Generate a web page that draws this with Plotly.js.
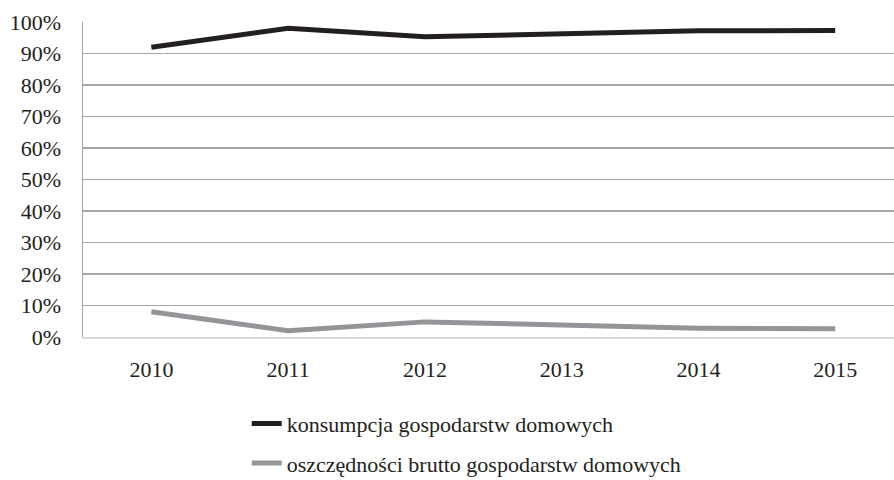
<!DOCTYPE html>
<html>
<head>
<meta charset="utf-8">
<script src="https://cdn.plot.ly/plotly-3.0.1.min.js"></script>
<style>html,body{margin:0;padding:0;background:#fff;}#chart{width:894px;height:480px;}</style>
</head>
<body>
<div id="chart"></div>
<script>
const years = ['2010', '2011', '2012', '2013', '2014', '2015'];
const konsumpcja = [0.92, 0.98, 0.953, 0.963, 0.972, 0.973];
const oszczednosci = [0.08, 0.02, 0.048, 0.037, 0.028, 0.026];
const seriesNames = ['konsumpcja gospodarstw domowych', 'oszczędności brutto gospodarstw domowych'];

const font = 'Times New Roman, Liberation Serif, Tinos, Times, DejaVu Serif, serif';

const traces = [
  {x: years, y: konsumpcja, name: seriesNames[0], type: 'scatter', mode: 'lines',
   line: {color: '#231f20', width: 5}, legendgroup: 'a', hoverinfo: 'skip'},
  {x: years, y: oszczednosci, name: seriesNames[1], type: 'scatter', mode: 'lines',
   line: {color: '#939598', width: 5}, legendgroup: 'b', hoverinfo: 'skip'}
];

const layout = {
  width: 894, height: 480,
  margin: {l: 83, r: 0, t: 22, b: 143, autoexpand: false},
  paper_bgcolor: '#ffffff', plot_bgcolor: '#ffffff',
  font: {family: font, size: 22, color: '#231f20'},
  xaxis: {
    type: 'category', range: [-0.5, 5.43],
    showgrid: false, zeroline: false,
    showline: true, linecolor: '#d9d9d9', linewidth: 2,
    ticks: '', ticklabelstandoff: 12,
    tickfont: {family: font, size: 22, color: '#231f20'}
  },
  yaxis: {
    range: [0, 1], dtick: 0.1, tick0: 0, tickformat: '.0%',
    showgrid: true, gridcolor: '#a6a6a6', gridwidth: 1.5,
    zeroline: false, showline: true, linecolor: '#a6a6a6', linewidth: 1.5,
    ticks: '', ticklabelstandoff: 16,
    tickfont: {family: font, size: 22, color: '#231f20'}
  },
  showlegend: true,
  legend: {
    orientation: 'v', xref: 'container', yref: 'container',
    x: 0.276, xanchor: 'left', y: 0.161, yanchor: 'top',
    traceorder: 'grouped', tracegroupgap: 8,
    font: {family: font, size: 22, color: '#231f20'},
    bgcolor: 'rgba(0,0,0,0)', itemwidth: 30
  }
};

Plotly.newPlot('chart', traces, layout, {displayModeBar: false, staticPlot: true});
</script>
</body>
</html>
